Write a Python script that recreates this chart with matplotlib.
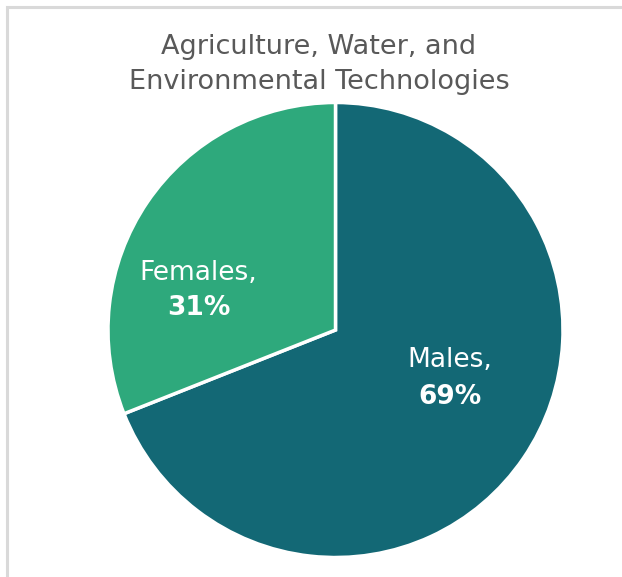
import matplotlib
matplotlib.use("Agg")
import matplotlib.pyplot as plt
from matplotlib.patches import Rectangle

categories = ["Males", "Females"]
shares = [69, 31]
colors = ["#136875", "#2EA97C"]
title_lines = ["Agriculture, Water, and", "Environmental Technologies"]

W, H = 622, 577
fig = plt.figure(figsize=(W / 100, H / 100), dpi=100)
fig.patch.set_facecolor("white")

# light frame (right/bottom edges run off the canvas)
fig.add_artist(Rectangle((6.5 / W, -0.1), 2.0, 1.1 - 7 / H, transform=fig.transFigure,
                         fill=False, edgecolor="#d9d9d9", linewidth=2.2))

cx, cy, r = 335.5, 330, 227.5
ax = fig.add_axes([(cx - r) / W, (H - cy - r) / H, 2 * r / W, 2 * r / H])
wedges, _ = ax.pie(shares, colors=colors, startangle=90, counterclock=False, radius=1,
                   wedgeprops=dict(edgecolor="white", linewidth=2.5))
ax.set_xlim(-1, 1)
ax.set_ylim(-1, 1)
ax.set_aspect("equal")
ax.axis("off")

font = "DejaVu Sans"
# (x, baseline of name line, baseline of value line) in pie-radius units
label_pos = {"Males": (0.503, -0.164, -0.325), "Females": (-0.602, 0.220, 0.066)}
for name, val in zip(categories, shares):
    x, y1, y2 = label_pos[name]
    ax.text(x, y1, f"{name},", ha="center", va="baseline", color="white",
            fontsize=19, family=font)
    ax.text(x, y2, f"{val}%", ha="center", va="baseline", color="white",
            fontsize=19, family=font, fontweight="bold")

for line, base in zip(title_lines, [54.5, 89]):
    fig.text(319 / W, 1 - base / H, line, ha="center", va="baseline", color="#595959",
             fontsize=19.5, family=font)

fig.savefig("out.png", dpi=100)
